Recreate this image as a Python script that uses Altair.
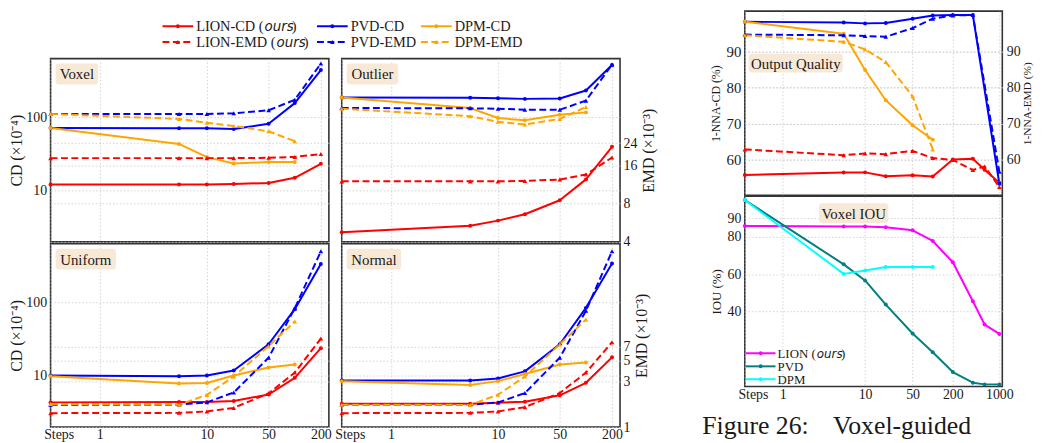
import math
import altair as alt
import pandas as pd

# ---------------- data ----------------
# step 0 = the baseline point drawn at the "Steps" position
STEPS_L = [0, 5, 10, 20, 50, 100, 200]
STEPS_L_DPM = [0, 5, 10, 20, 50, 100]
STEPS_R = [0, 5, 10, 20, 50, 100, 200, 400, 600, 1000]
STEPS_R_PVD = [0, 5, 10, 20, 50, 100, 200, 400, 1000]
STEPS_R_DPM = [0, 5, 10, 20, 50, 100]

voxel_lion_cd = [12.0, 12.0, 12.0, 12.2, 12.6, 14.8, 23.0]
voxel_lion_emd = [18.3, 18.3, 18.3, 18.3, 18.4, 18.7, 19.7]
voxel_pvd_cd = [71.0, 70.5, 70.5, 68.7, 81.0, 155.0, 438.0]
voxel_pvd_emd = [40.8, 40.8, 40.8, 41.3, 43.6, 52.8, 102.0]
voxel_dpm_cd = [71.0, 43.0, 28.4, 23.2, 24.3, 24.3]
voxel_dpm_emd = [40.8, 37.3, 34.8, 32.8, 29.8, 24.9]

outlier_lion_cd = [2.67, 3.29, 3.86, 4.72, 7.31, 14.1, 39.2]
outlier_lion_emd = [12.0, 12.0, 12.0, 12.1, 12.4, 13.6, 18.5]
outlier_pvd_cd = [185.0, 183.0, 181.0, 177.0, 179.0, 230.0, 512.0]
outlier_pvd_emd = [45.5, 45.2, 44.9, 44.1, 44.1, 52.0, 100.0]
outlier_dpm_cd = [185.0, 132.5, 96.9, 90.2, 107.5, 115.8]
outlier_dpm_emd = [44.9, 39.2, 35.4, 33.7, 37.3, 46.3]

uniform_lion_cd = [4.3, 4.35, 4.35, 4.5, 5.5, 9.3, 23.6]
uniform_lion_emd = [1.40, 1.41, 1.46, 1.59, 2.26, 3.74, 8.53]
uniform_pvd_cd = [10.0, 9.8, 10.0, 11.7, 26.7, 80.4, 332.0]
uniform_pvd_emd = [1.72, 1.72, 1.82, 2.31, 5.36, 17.8, 70.5]
uniform_dpm_cd = [9.8, 7.8, 7.9, 10.0, 12.9, 14.1]
uniform_dpm_emd = [1.75, 1.72, 2.18, 3.40, 7.1, 12.9]

normal_lion_cd = [4.13, 4.13, 4.26, 4.39, 5.37, 7.95, 17.7]
normal_lion_emd = [1.40, 1.41, 1.46, 1.62, 2.28, 3.74, 7.81]
normal_pvd_cd = [8.56, 8.56, 9.1, 11.4, 26.7, 83.8, 339.0]
normal_pvd_emd = [1.72, 1.72, 1.81, 2.28, 5.36, 16.7, 70.5]
normal_dpm_cd = [8.38, 7.4, 8.38, 10.5, 14.1, 15.1]
normal_dpm_emd = [1.72, 1.71, 2.19, 3.40, 7.39, 13.5]

nna_lion_cd = [55.85, 56.5, 56.55, 55.5, 55.75, 55.4, 60.1, 60.3, 57.3, 53.7]
nna_lion_emd = [62.9, 61.3, 61.8, 61.6, 62.5, 60.5, 60.0, 57.2, 58.2, 52.5]
nna_pvd_cd = [98.25, 98.06, 97.8, 97.9, 99.1, 100.0, 100.1, 100.1, 53.4]
nna_pvd_emd = [94.7, 94.5, 94.3, 94.1, 96.5, 99.1, 100.0, 100.1, 56.7]
nna_dpm_cd = [98.25, 94.9, 84.9, 76.5, 69.6, 65.6]
nna_dpm_emd = [94.5, 92.7, 90.6, 87.1, 77.6, 62.9]

iou_lion = [85.8, 85.6, 85.6, 85.2, 83.5, 77.8, 66.4, 45.6, 33.1, 28.1]
iou_pvd = [99.7, 65.3, 56.7, 43.8, 28.3, 18.3, 7.7, 2.0, 1.1, 1.1]
iou_dpm = [99.7, 60.2, 62.0, 63.9, 63.9, 63.9]

METHODS = ["LION", "PVD", "DPM"]
PANELS = ["Voxel", "Outlier", "Uniform", "Normal"]
CAPTION_A = "Figure 26:"
CAPTION_B = "Voxel-guided"


def rows(panel, method, metric, steps, vals):
    return [dict(panel=panel, method=method, metric=metric, step=s, value=v)
            for s, v in zip(steps, vals)]


left_rows = []
for p, pre in zip(PANELS, ["voxel", "outlier", "uniform", "normal"]):
    g = globals()
    left_rows += rows(p, "LION", "CD", STEPS_L, g[pre + "_lion_cd"])
    left_rows += rows(p, "LION", "EMD", STEPS_L, g[pre + "_lion_emd"])
    left_rows += rows(p, "PVD", "CD", STEPS_L, g[pre + "_pvd_cd"])
    left_rows += rows(p, "PVD", "EMD", STEPS_L, g[pre + "_pvd_emd"])
    left_rows += rows(p, "DPM", "CD", STEPS_L_DPM, g[pre + "_dpm_cd"])
    left_rows += rows(p, "DPM", "EMD", STEPS_L_DPM, g[pre + "_dpm_emd"])
df_left = pd.DataFrame(left_rows)

df_nna = pd.DataFrame(
    rows("NNA", "LION", "CD", STEPS_R, nna_lion_cd)
    + rows("NNA", "LION", "EMD", STEPS_R, nna_lion_emd)
    + rows("NNA", "PVD", "CD", STEPS_R_PVD, nna_pvd_cd)
    + rows("NNA", "PVD", "EMD", STEPS_R_PVD, nna_pvd_emd)
    + rows("NNA", "DPM", "CD", STEPS_R_DPM, nna_dpm_cd)
    + rows("NNA", "DPM", "EMD", STEPS_R_DPM, nna_dpm_emd)
)
df_iou = pd.DataFrame(
    rows("IOU", "LION", "IOU", STEPS_R, iou_lion)
    + rows("IOU", "PVD", "IOU", STEPS_R, iou_pvd)
    + rows("IOU", "DPM", "IOU", STEPS_R_DPM, iou_dpm)
)

# ---------------- styling / layout ----------------
FONT = "Liberation Serif"
IFONT = "DejaVu Sans"
TXT = "#1a1a1a"
TAG_FILL = "#f7e9d6"
COLORS = ["#ff0000", "#0000ff", "#ffa500"]
IOU_COLORS = ["#ff00ff", "#008080", "#00ffff"]
DASH = [7, 3.5]

SHIFT = 0.45            # x axis: log(steps - SHIFT)
X_MIN = -1.91
X_MAX_L = 5.51
X_MAX_R = 7.01
XEXPR = f"datum.step > 0 ? log(datum.step - {SHIFT}) : {X_MIN}"
XLABEL = f"datum.value < -1.5 ? 'Steps' : format(exp(datum.value) + {SHIFT}, '.0f')"
XT_L = [X_MIN] + [math.log(s - SHIFT) for s in (1, 10, 50, 200)]
XT_R = XT_L + [math.log(1000 - SHIFT)]

CD_DOM = [1.98, 627]
EMD_TOP = [4, 111.5]
EMD_BOT = [1, 84.6]
NNA_DOM = [50.2, 101.2]
IOU_DOM = [0, 101.7]

W_L, H_L = 281, 185
W_R, H_NNA, H_IOU = 260, 186, 192

GRID = dict(grid=True, gridColor="#c8c8c8", gridDash=[1.5, 2], gridWidth=0.8,
            ticks=False, domain=False, minExtent=0)
LAB = dict(labelFont=FONT, labelColor=TXT, labelOverlap=False)
TTL = dict(titleFont=FONT, titleColor=TXT, titleFontWeight="normal")


def xaxis(values, show):
    return alt.Axis(values=values, labels=show, labelExpr=XLABEL, title=None,
                    labelFontSize=14, labelPadding=1, labelFlush=True,
                    labelFlushOffset=7, **LAB, **GRID)


def yaxis(orient, values, show, title, fs=14, tfs=16, tpad=1, lpad=4):
    kw = dict(orient=orient, values=values, labels=show, labelFontSize=fs,
              labelPadding=lpad, format="d", **LAB, **GRID, **TTL)
    if show:
        kw.update(title=title, titleFontSize=tfs, titlePadding=tpad, titleAngle=270)
        if orient == "right":
            kw.update(titleBaseline="top")
    else:
        kw.update(title=None)
    return alt.Axis(**kw)


def tag(text, x0, x1, y0, y1, fs=15):
    one = pd.DataFrame({"t": [text]})
    rect = alt.Chart(one).mark_rect(fill=TAG_FILL, cornerRadius=3).encode(
        x=alt.value(x0), x2=alt.value(x1), y=alt.value(y0), y2=alt.value(y1))
    txt = alt.Chart(one).mark_text(font=FONT, fontSize=fs, color=TXT,
                                   align="center", baseline="middle").encode(
        x=alt.value((x0 + x1) / 2), y=alt.value((y0 + y1) / 2 + 0.5), text="t:N")
    return [rect, txt]


def series_layer(data, metric, x, y, colors, dashed, shape, msize):
    base = alt.Chart(data).transform_filter(
        alt.datum.metric == metric).transform_calculate(xpos=XEXPR)
    color = alt.Color("method:N", scale=alt.Scale(domain=METHODS, range=colors), legend=None)
    lkw = dict(strokeWidth=2, strokeJoin="round")
    if dashed:
        lkw["strokeDash"] = DASH
    line = base.mark_line(**lkw).encode(x=x, y=y, color=color, detail="method:N")
    pts = base.mark_point(filled=True, shape=shape, size=msize, opacity=1).encode(
        x=x, y=y, color=color)
    return alt.layer(line, pts)


TAGS = {"Voxel": (5, 48), "Outlier": (5, 57), "Uniform": (5, 66), "Normal": (5, 60)}


def left_panel(name, top, show_left):
    d = df_left[df_left.panel == name]
    x = alt.X("xpos:Q", scale=alt.Scale(domain=[X_MIN, X_MAX_L], nice=False, zero=False),
              axis=xaxis(XT_L, not top))
    cd_y = alt.Y("value:Q", scale=alt.Scale(type="log", domain=CD_DOM, nice=False),
                 axis=yaxis("left", [10, 100], show_left, "CD (×10⁻⁴)"))
    emd_vals = [24, 16, 8, 4] if top else [7, 5, 3, 1]
    emd_y = alt.Y("value:Q", scale=alt.Scale(type="log", domain=EMD_TOP if top else EMD_BOT,
                                             nice=False),
                  axis=yaxis("right", emd_vals, not show_left, "EMD (×10⁻³)", tpad=4, lpad=3))
    cd = series_layer(d, "CD", x, cd_y, COLORS, False, "circle", 16)
    emd = series_layer(d, "EMD", x, emd_y, COLORS, True, "triangle-up", 22)
    tx0, tx1 = TAGS[name]
    return alt.layer(cd, emd, *tag(name, tx0, tx1, 5, 26)).resolve_scale(
        y="independent").properties(width=W_L, height=H_L)


def nna_panel():
    x = alt.X("xpos:Q", scale=alt.Scale(domain=[X_MIN, X_MAX_R], nice=False, zero=False),
              axis=xaxis(XT_R, False))
    cd_y = alt.Y("value:Q", scale=alt.Scale(domain=NNA_DOM, nice=False, zero=False),
                 axis=yaxis("left", [60, 70, 80, 90], True, "1-NNA-CD (%)", fs=15, tfs=12, tpad=4))
    emd_y = alt.Y("value:Q", scale=alt.Scale(domain=NNA_DOM, nice=False, zero=False),
                  axis=yaxis("right", [60, 70, 80, 90], True, "1-NNA-EMD (%)", fs=14, tfs=11.5,
                             tpad=1, lpad=4))
    cd = series_layer(df_nna, "CD", x, cd_y, COLORS, False, "circle", 16)
    emd = series_layer(df_nna, "EMD", x, emd_y, COLORS, True, "triangle-up", 22)
    return alt.layer(cd, emd, *tag("Output Quality", 4, 99, 43, 62)).resolve_scale(
        y="independent").properties(width=W_R, height=H_NNA)


def text_pieces(label, fs, start):
    """serif text with an italic sans 'ours' as in the original figure"""
    TW = {" ": 250, "(": 333, ")": 333, "-": 333, "C": 667, "D": 722, "E": 611,
          "I": 333, "L": 611, "M": 889, "N": 722, "O": 722, "P": 556, "V": 722}
    IW = {"o": 612, "u": 634, "r": 411, "s": 521}
    out = []
    if "(ours)" in label:
        head = label.replace("(ours)", "(")
        w1 = sum(TW.get(c, 600) for c in head) * fs / 1000 + 1
        w2 = sum(IW[c] for c in "ours") * (fs - 1) / 1000 * 0.9
        out.append((head, start, False))
        out.append(("ours", start + w1, True))
        out.append((")", start + w1 + w2 + 1, False))
    else:
        out.append((label, start, False))
    return out


def legend_marks(entries, fs, line_len, gap):
    """entries: (label, color, dashed, shape, x, y)"""
    one = pd.DataFrame({"a": [0]})
    layers = []
    for label, color, dashed, shape, lx, ly in entries:
        rk = dict(color=color, strokeWidth=2)
        if dashed:
            rk["strokeDash"] = DASH
        layers.append(alt.Chart(one).mark_rule(**rk).encode(
            x=alt.value(lx), x2=alt.value(lx + line_len), y=alt.value(ly)))
        layers.append(alt.Chart(one).mark_point(filled=True, shape=shape, color=color,
                                                size=22 if dashed else 16, opacity=1).encode(
            x=alt.value(lx + line_len / 2), y=alt.value(ly)))
        for txt, tx, ital in text_pieces(label, fs, lx + line_len + gap):
            mk = dict(font=IFONT if ital else FONT, fontSize=fs - (1 if ital else 0),
                      color=TXT, align="left", baseline="middle")
            if ital:
                mk["fontStyle"] = "italic"
            layers.append(alt.Chart(pd.DataFrame({"t": [txt]})).mark_text(**mk).encode(
                x=alt.value(tx), y=alt.value(ly + 0.5), text="t:N"))
    return layers


def iou_panel():
    x = alt.X("xpos:Q", scale=alt.Scale(domain=[X_MIN, X_MAX_R], nice=False, zero=False),
              axis=xaxis(XT_R, True))
    y = alt.Y("value:Q", scale=alt.Scale(domain=IOU_DOM, nice=False, zero=False),
              axis=yaxis("left", [40, 60, 80, 90], True, "IOU (%)", fs=14, tfs=13, tpad=4))
    s = series_layer(df_iou, "IOU", x, y, IOU_COLORS, False, "circle", 16)
    ents = [("LION (ours)", IOU_COLORS[0], False, "circle", 1, 158.5),
            ("PVD", IOU_COLORS[1], False, "circle", 1, 171.7),
            ("DPM", IOU_COLORS[2], False, "circle", 1, 184.7)]
    leg = legend_marks(ents, 13, 30, 2)
    return alt.layer(s, *tag("Voxel IOU", 75, 145, 7, 27), *leg).properties(
        width=W_R, height=H_IOU)


NOVIEW = alt.ViewBackground(stroke="transparent")

legend_entries = []
for m, c, lx in zip(METHODS, COLORS, [113, 269, 374]):
    suffix = " (ours)" if m == "LION" else ""
    legend_entries.append((f"{m}-CD{suffix}", c, False, "circle", lx, 15.3))
    legend_entries.append((f"{m}-EMD{suffix}", c, True, "triangle-up", lx, 31.3))
legend = alt.layer(*legend_marks(legend_entries, 14.5, 31, 3)).properties(
    width=520, height=40, view=NOVIEW)

grid = alt.concat(
    left_panel("Voxel", True, True), left_panel("Outlier", True, False),
    left_panel("Uniform", False, True), left_panel("Normal", False, False),
    columns=2, spacing={"row": 2, "column": 13}, bounds="flush",
)
left_block = alt.vconcat(legend, grid, spacing=6)

cap_df = pd.DataFrame({"t": [CAPTION_A, CAPTION_B], "k": [0, 1]})
cap_a = alt.Chart(cap_df).transform_filter(alt.datum.k == 0).mark_text(
    font=FONT, fontSize=26, color=TXT, align="left", baseline="middle").encode(
    x=alt.value(-43), y=alt.value(13), text="t:N")
cap_b = alt.Chart(cap_df).transform_filter(alt.datum.k == 1).mark_text(
    font=FONT, fontSize=26, color=TXT, align="left", baseline="middle").encode(
    x=alt.value(89), y=alt.value(13), text="t:N")
caption = alt.layer(cap_a, cap_b).properties(width=W_R, height=24, view=NOVIEW)

right_block = alt.vconcat(
    alt.vconcat(nna_panel(), iou_panel(), spacing=1, bounds="flush").resolve_scale(
        color="independent"),
    caption, spacing=10,
).resolve_scale(color="independent")

chart = alt.hconcat(left_block, right_block, spacing=44).resolve_scale(
    color="independent").properties(
    padding={"left": 0, "top": 0, "right": 0, "bottom": 0}
).configure_view(stroke="#333333", strokeWidth=1.6)

chart.save("out.html", embed_options={"renderer": "svg", "actions": False})
